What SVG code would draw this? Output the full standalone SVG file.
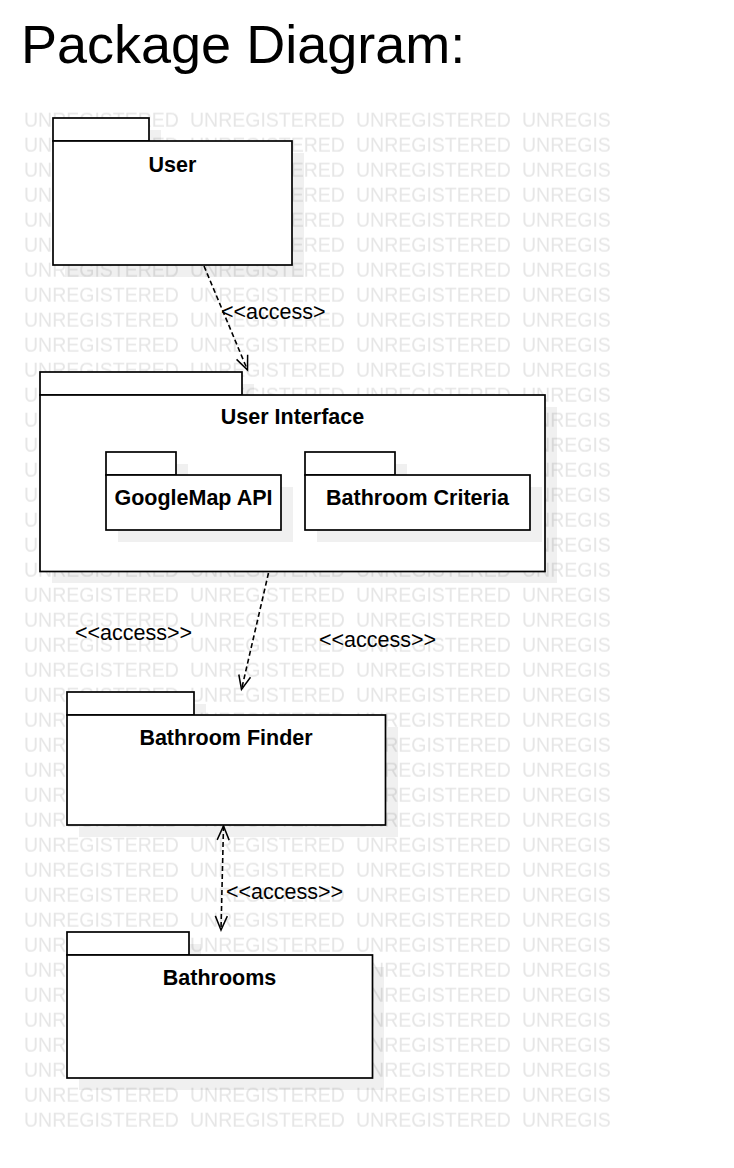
<svg xmlns="http://www.w3.org/2000/svg" width="734" height="1168" viewBox="0 0 734 1168">
  <style>
    .wm { font-family: "Liberation Sans", Arial, sans-serif; font-size: 19.5px; fill: #e6e6e6; }
    .box { fill: #ffffff; stroke: #000000; stroke-width: 1.7; }
    .shadow { fill: #000000; fill-opacity: 0.06; }
    .name { font-family: "Liberation Sans", Arial, sans-serif; font-size: 21.5px; font-weight: bold; fill: #000000; text-anchor: middle; }
    .lbl { font-family: "Liberation Sans", Arial, sans-serif; font-size: 21.5px; fill: #000000; }
    .dep { fill: none; stroke: #000000; stroke-width: 1.6; stroke-dasharray: 5 3; }
  </style>
  <defs>
    <pattern id="wmpat" patternUnits="userSpaceOnUse" x="24" y="102.7" width="166" height="25">
      <text class="wm" x="0" y="24">UNREGISTERED</text>
    </pattern>
    <marker id="open" viewBox="-16 -8 18 16" refX="0" refY="0" markerWidth="18" markerHeight="16" markerUnits="userSpaceOnUse" orient="auto-start-reverse">
      <path d="M -14,-6 L 0,0 L -14,6" fill="none" stroke="#000000" stroke-width="1.5"/>
    </marker>
  </defs>
  <rect width="734" height="1168" fill="#ffffff"/>
  <text x="21" y="63" font-family="'Liberation Sans', Arial, sans-serif" font-size="54" fill="#000000">Package Diagram:</text>
  <rect id="watermark" x="22" y="105" width="589" height="1025" fill="url(#wmpat)"/>

  <g id="connectors">
    <line class="dep" x1="204" y1="266" x2="247.5" y2="370" marker-end="url(#open)"/>
    <text class="lbl" x="221" y="318.5">&lt;&lt;access&gt;</text>
    <line class="dep" x1="268.5" y1="573" x2="241.5" y2="689.5" marker-end="url(#open)"/>
    <text class="lbl" x="75" y="639.5">&lt;&lt;access&gt;&gt;</text>
    <text class="lbl" x="319" y="647">&lt;&lt;access&gt;&gt;</text>
    <line class="dep" x1="223.5" y1="826" x2="221" y2="930" marker-start="url(#open)" marker-end="url(#open)"/>
    <text class="lbl" x="226" y="898.5">&lt;&lt;access&gt;&gt;</text>
  </g>

  <g id="user">
    <path class="shadow" d="M 65,130 H 161 V 153 H 304 V 277 H 65 Z"/>
    <rect class="box" x="53" y="118" width="96" height="23"/>
    <rect class="box" x="53" y="141" width="239" height="124"/>
    <text class="name" x="172.5" y="172">User</text>
  </g>

  <g id="user-interface">
    <path class="shadow" d="M 52,384 H 254 V 407 H 557 V 583 H 52 Z"/>
    <rect class="box" x="40" y="372" width="202" height="23"/>
    <rect class="box" x="40" y="395" width="505" height="176.5"/>
    <text class="name" x="292.5" y="424">User Interface</text>
  </g>

  <g id="googlemap-api">
    <path class="shadow" d="M 118,464 H 188 V 487 H 293 V 542 H 118 Z"/>
    <rect class="box" x="106" y="452" width="70" height="23"/>
    <rect class="box" x="106" y="475" width="175" height="55"/>
    <text class="name" x="193.5" y="505">GoogleMap API</text>
  </g>

  <g id="bathroom-criteria">
    <path class="shadow" d="M 317,464 H 407 V 487 H 542 V 542 H 317 Z"/>
    <rect class="box" x="305" y="452" width="90" height="23"/>
    <rect class="box" x="305" y="475" width="225" height="55"/>
    <text class="name" x="417.5" y="505">Bathroom Criteria</text>
  </g>

  <g id="bathroom-finder">
    <path class="shadow" d="M 79,704 H 206 V 727 H 398 V 837 H 79 Z"/>
    <rect class="box" x="67" y="692" width="127" height="23"/>
    <rect class="box" x="67" y="715" width="318.5" height="110"/>
    <text class="name" x="226" y="744.5">Bathroom Finder</text>
  </g>

  <g id="bathrooms">
    <path class="shadow" d="M 79,944 H 201 V 967 H 384 V 1090 H 79 Z"/>
    <rect class="box" x="67" y="932" width="122" height="23"/>
    <rect class="box" x="67" y="955" width="305.5" height="123"/>
    <text class="name" x="219.5" y="984.5">Bathrooms</text>
  </g>
</svg>
